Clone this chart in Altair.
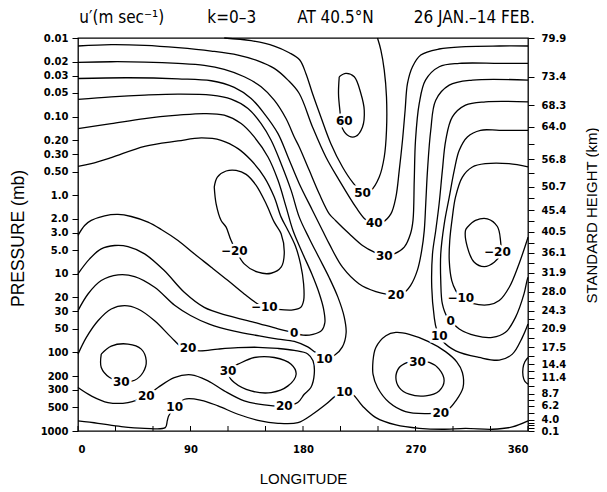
import altair as alt
import pandas as pd

# ---------------- contour lines: longitude (deg) and log10(pressure, mb) ----------------
C60_LON = [209, 214.3, 221, 226.3, 229, 227.6, 222.3, 217, 211.6, 209.5, 208.4, 209]
C60_LP = [-1.507, -1.55, -1.507, -1.294, -1.081, -0.869, -0.75, -0.75, -0.848, -1.081, -1.294, -1.507]

C50_LON = [117, 138.5, 157, 169, 177.4, 182.3, 187.6, 194.3, 202.3, 211.6, 219.6, 227.6, 234.3, 241, 245, 246.8, 246.8, 245, 242.3, 239.6]
C50_LP = [-2.0, -1.966, -1.898, -1.813, -1.72, -1.549, -1.294, -0.996, -0.656, -0.359, -0.167, -0.04, -0.061, -0.231, -0.486, -0.826, -1.25, -1.592, -1.847, -2.0]

C40_LON = [0, 26.6, 53.3, 80, 106.6, 128, 144, 157, 168, 177, 187.6, 198.3, 209, 222.3, 230.3, 237, 243.6, 250.3, 254.3, 257, 259.6, 261.7, 263.6, 267.6, 274.2, 288.9, 310, 337, 360]
C40_LP = [-1.898, -1.915, -1.906, -1.877, -1.834, -1.783, -1.71, -1.613, -1.464, -1.294, -0.869, -0.486, -0.189, 0.152, 0.313, 0.356, 0.343, 0.237, 0.024, -0.316, -0.699, -1.081, -1.422, -1.634, -1.783, -1.86, -1.89, -1.898, -1.898]

C30_LON = [0, 26.6, 53.3, 80, 101, 117, 133, 146.5, 157, 166.4, 173, 177, 185, 193, 201, 206, 217, 227.6, 237, 245, 253, 261, 266, 268, 269, 270, 273, 278, 289, 305, 337, 360]
C30_LP = [-1.69, -1.698, -1.694, -1.677, -1.651, -1.6, -1.507, -1.38, -1.209, -0.975, -0.741, -0.614, -0.316, -0.018, 0.237, 0.321, 0.491, 0.64, 0.725, 0.77, 0.746, 0.661, 0.491, 0.321, -0.189, -0.699, -1.167, -1.464, -1.634, -1.677, -1.677, -1.677]

C20U_LON = [0, 40, 80, 106.6, 125, 138.5, 149, 160, 168, 177, 187.6, 195.6, 201, 211.6, 225, 238.3, 247.6, 254.3, 260, 266, 271.6, 275, 277, 278.2, 279.6, 282.2, 286.2, 297, 315.5, 360]
C20U_LP = [-1.485, -1.494, -1.481, -1.456, -1.371, -1.23, -1.039, -0.784, -0.486, -0.146, 0.194, 0.449, 0.619, 0.916, 1.129, 1.227, 1.262, 1.268, 1.25, 1.15, 0.95, 0.70, 0.45, 0.109, -0.316, -0.826, -1.209, -1.40, -1.464, -1.464]

C10L_LON = [0, 26.6, 53.3, 80, 106.6, 122.5, 136, 146.5, 154.5, 162.5, 170.5, 177, 185, 193, 201, 208, 213, 214.5, 211.5, 205, 198, 190, 183.8, 173, 160, 145, 125, 105, 90, 77.3, 61.3, 45.3, 32, 18.6, 8, 0]
C10L_LP = [-1.218, -1.25, -1.273, -1.286, -1.273, -1.222, -1.103, -0.911, -0.699, -0.401, -0.061, 0.279, 0.55, 0.8, 1.05, 1.3, 1.55, 1.75, 1.93, 2.04, 2.07, 2.0, 1.93, 1.86, 1.83, 1.79, 1.73, 1.64, 1.53, 1.40, 1.171, 1.035, 1.014, 1.086, 1.257, 1.469]

C10R_LON = [360, 326, 310, 299.5, 294.2, 291.5, 288.9, 286.2, 283.6, 283, 285, 286.8, 291.5, 302.2, 320.9, 337, 347.5, 355.5, 360]
C10R_LP = [-1.188, -1.188, -1.145, -0.996, -0.699, -0.316, 0.109, 0.449, 0.746, 1.171, 1.554, 1.703, 1.852, 1.98, 2.064, 2.098, 2.022, 1.809, 1.64]

C10B_LON = [0, 16, 34.6, 53.3, 69.8, 71.4, 72.5, 77.3, 85.2, 98.6, 112, 128, 144, 160, 176, 187.6, 198.3, 206.3, 213, 219.6, 227.6, 238.3, 254.3, 273, 291.5, 310, 331.5, 347.5, 360]
C10B_LP = [2.872, 2.902, 2.944, 2.966, 2.957, 2.872, 2.808, 2.70, 2.596, 2.609, 2.681, 2.787, 2.864, 2.902, 2.894, 2.787, 2.66, 2.553, 2.51, 2.532, 2.681, 2.83, 2.923, 2.966, 2.978, 2.966, 2.978, 2.949, 2.872]

C0L_LON = [0, 26.6, 53.3, 80, 101, 117, 130.5, 141, 152, 160, 166.5, 172, 180, 187, 193, 196.5, 197.5, 195, 188, 180, 173, 160, 141, 120, 101, 85, 69, 53.3, 40, 29.3, 18.6, 9.3, 0]
C0L_LP = [-0.848, -0.911, -0.975, -1.018, -1.039, -1.018, -0.911, -0.741, -0.486, -0.189, 0.152, 0.449, 0.75, 1.0, 1.25, 1.45, 1.62, 1.72, 1.77, 1.78, 1.75, 1.70, 1.618, 1.533, 1.427, 1.235, 0.959, 0.746, 0.653, 0.64, 0.683, 0.81, 1.0]

C0R_LON = [360, 337, 322, 311.5, 305, 301, 297, 293, 290.2, 290.2, 291.5, 295.5, 298.2, 305, 318, 331.5, 342, 350, 356.8, 359.2, 360]
C0R_LP = [-0.826, -0.826, -0.826, -0.741, -0.571, -0.316, 0.024, 0.364, 0.746, 1.086, 1.384, 1.554, 1.597, 1.703, 1.788, 1.809, 1.745, 1.554, 1.256, 1.086, 1.044]

CM10L_LON = [0, 10.6, 26.6, 53.3, 80, 98.6, 114.5, 128, 138.5, 149, 157, 162.5, 168, 174, 178, 180.5, 180.5, 178, 172, 160, 149, 143.8, 133, 120, 106.6, 93, 80, 66.6, 56, 42.6, 32, 21.3, 10.6, 5.3, 0]
CM10L_LP = [-0.367, -0.401, -0.478, -0.622, -0.69, -0.729, -0.699, -0.593, -0.444, -0.231, 0.024, 0.279, 0.449, 0.65, 0.874, 1.13, 1.34, 1.43, 1.46, 1.452, 1.418, 1.384, 1.257, 1.086, 0.916, 0.746, 0.576, 0.436, 0.343, 0.271, 0.245, 0.262, 0.321, 0.385, 0.512]

CM10R_LON = [360, 344.8, 326, 315.5, 307.5, 302, 299.5, 297.4, 297, 299, 302.2, 306.2, 315.5, 329, 337, 345, 352.8, 359.2, 360]
CM10R_LP = [-0.359, -0.401, -0.401, -0.359, -0.231, 0.024, 0.279, 0.576, 0.831, 1.086, 1.214, 1.307, 1.376, 1.393, 1.341, 1.171, 0.874, 0.576, 0.534]

CM20L_LON = [109, 111.5, 118.5, 126.5, 134.5, 142.5, 150.5, 157, 162.5, 165, 162.5, 154.5, 144, 133, 122.5, 118.5, 114.5, 110.5, 109]
CM20L_LP = [-0.104, -0.231, -0.308, -0.316, -0.265, -0.125, 0.109, 0.343, 0.491, 0.746, 0.916, 0.993, 0.98, 0.874, 0.576, 0.406, 0.321, 0.109, -0.104]

CM20R_LON = [311.5, 318, 327.5, 335.5, 338, 338, 333, 325, 317, 311.5, 310, 311.5]
CM20R_LP = [0.407, 0.321, 0.3, 0.398, 0.576, 0.746, 0.853, 0.908, 0.853, 0.661, 0.449, 0.407]

C20L_LON = [0, 6.7, 16, 26.6, 37.3, 48, 61.3, 74.6, 82.6, 88, 97.2, 112, 128, 144, 160, 173, 183.8, 188, 189, 186.3, 181, 175.8, 165, 149, 133, 117, 104, 90.6, 77, 64, 54.6, 40, 24, 10.6, 0]
C20L_LP = [2.022, 1.809, 1.597, 1.448, 1.405, 1.448, 1.597, 1.809, 1.928, 1.95, 1.98, 1.958, 1.94, 1.935, 1.95, 1.975, 2.02, 2.107, 2.277, 2.447, 2.532, 2.638, 2.681, 2.668, 2.617, 2.49, 2.362, 2.285, 2.32, 2.447, 2.553, 2.638, 2.638, 2.553, 2.447]

C20E_LON = [360, 357.5, 356, 356, 357.5, 360]
C20E_LP = [2.065, 2.12, 2.2, 2.3, 2.37, 2.404]

C20R_LON = [236, 238.3, 246.3, 254.3, 265, 280, 294, 303, 307.5, 308, 302.2, 295.5, 290.2, 278.2, 262, 249, 239.6, 236, 236]
C20R_LP = [2.107, 1.937, 1.788, 1.746, 1.77, 1.86, 1.99, 2.12, 2.256, 2.447, 2.617, 2.736, 2.766, 2.779, 2.753, 2.638, 2.447, 2.277, 2.107]

C30A_LON = [18.6, 26.6, 40, 50.6, 54.6, 52, 45.3, 34.6, 25.3, 18.6, 18.6]
C30A_LP = [2.022, 1.92, 1.894, 1.958, 2.107, 2.256, 2.354, 2.375, 2.32, 2.192, 2.022]

C30B_LON = [122.5, 128, 141, 157, 170.5, 174.5, 168, 154.5, 138.5, 125, 121, 122.5]
C30B_LP = [2.192, 2.15, 2.065, 2.065, 2.15, 2.277, 2.426, 2.511, 2.49, 2.383, 2.298, 2.192]

C30C_LON = [263.6, 257, 254.3, 257, 265, 278.2, 288.9, 292.9, 288.9, 281, 271.6, 263.6]
C30C_LP = [2.128, 2.192, 2.32, 2.447, 2.532, 2.553, 2.49, 2.362, 2.213, 2.128, 2.12, 2.128]

CONTOURS = [
    ("c60", C60_LON, C60_LP), ("c50", C50_LON, C50_LP), ("c40", C40_LON, C40_LP),
    ("c30", C30_LON, C30_LP), ("c20u", C20U_LON, C20U_LP), ("c10l", C10L_LON, C10L_LP),
    ("c10r", C10R_LON, C10R_LP), ("c10b", C10B_LON, C10B_LP), ("c0l", C0L_LON, C0L_LP),
    ("c0r", C0R_LON, C0R_LP), ("cm10l", CM10L_LON, CM10L_LP), ("cm10r", CM10R_LON, CM10R_LP),
    ("cm20l", CM20L_LON, CM20L_LP), ("cm20r", CM20R_LON, CM20R_LP), ("c20l", C20L_LON, C20L_LP),
    ("c20e", C20E_LON, C20E_LP), ("c20r", C20R_LON, C20R_LP), ("c30a", C30A_LON, C30A_LP),
    ("c30b", C30B_LON, C30B_LP), ("c30c", C30C_LON, C30C_LP),
]

# ---------------- contour labels ----------------
LAB_TEXT = ["60", "50", "40", "30", "20", "\u221220", "\u221220", "\u221210", "\u221210", "0", "0",
            "10", "10", "10", "10", "20", "20", "20", "20", "30", "30", "30"]
LAB_LON = [213, 227.6, 237, 245, 254.3, 125, 335.5, 149, 306.2, 173, 298.2,
           197, 289, 213, 77.3, 88, 54.6, 165, 290.2, 34.6, 120, 271.6]
LAB_LP = [-0.945, -0.03, 0.356, 0.77, 1.265, 0.704, 0.725, 1.418, 1.307, 1.75, 1.597,
          2.086, 1.788, 2.51, 2.70, 1.95, 2.553, 2.681, 2.766, 2.375, 2.235, 2.128]

# ---------------- axes ----------------
P_TICKS = [0.01, 0.02, 0.03, 0.05, 0.1, 0.2, 0.3, 0.5, 1, 2, 3, 5, 10, 20, 30, 50, 100, 200, 300, 500, 1000]
P_LABELS = ["0.01", "0.02", "0.03", "0.05", "0.10", "0.20", "0.30", "0.50", "1.0", "2.0", "3.0", "5.0",
            "10", "20", "30", "50", "100", "200", "300", "500", "1000"]
H_TICKS = [0.01, 0.031, 0.072, 0.135, 0.35, 0.78, 1.55, 2.9, 5.4, 9.7, 16.8, 29.5, 49, 86, 142, 210, 335, 480, 720, 1000]
H_LABELS = ["79.9", "73.4", "68.3", "64.0", "56.8", "50.7", "45.4", "40.5", "36.1", "31.9", "28.0", "24.3",
            "20.9", "17.5", "14.4", "11.4", "8.7", "6.2", "4.0", "0.1"]
H_MINOR = [0.22, 0.52, 1.1, 2.1, 4.0, 7.2, 12.8, 22, 38, 65, 110, 173, 265, 400, 590, 790, 850, 920]
LON_LABELS = [0, 90, 180, 270, 360]
LON_TICKS = [0, 30, 60, 90, 120, 150, 180, 210, 240, 270, 300, 330, 360]

TITLE_TEXT = ["u\u2032(m sec\u207b\u00b9)", "k=0\u20133", "AT 40.5\u00b0N", "26 JAN.\u201314 FEB."]
TITLE_LON = [35, 123, 206, 317]

# ---------------- build tables ----------------
rows = []
for name, lons, lps in CONTOURS:
    for i, (lo, lp) in enumerate(zip(lons, lps)):
        rows.append({"seg": name, "i": i, "lon": lo, "p": 10 ** lp})
df = pd.DataFrame(rows)
labs = pd.DataFrame({"t": LAB_TEXT, "lon": LAB_LON, "p": [10 ** v for v in LAB_LP]})
titles = pd.DataFrame({"t": TITLE_TEXT, "lon": TITLE_LON})
xt = pd.DataFrame({"lon": LON_TICKS})
rt = pd.DataFrame({"p": H_TICKS + H_MINOR})


def label_expr(vals, labels):
    expr = "''"
    for v, lab in reversed(list(zip(vals, labels))):
        expr = f"datum.value == {v} ? '{lab}' : ({expr})"
    return expr


LABEL_FONT = "DejaVu Sans"
TITLE_FONT = "Liberation Sans Narrow, DejaVu Sans Condensed, Roboto, sans-serif"
AX_TITLE_FONT = "Liberation Sans, Arial, sans-serif"

xscale = alt.Scale(domain=[0, 360], nice=False, zero=False)
yscale = alt.Scale(type="log", domain=[0.01, 1000], reverse=True, nice=False)

xaxis = alt.Axis(values=LON_LABELS, tickSize=0, labelPadding=13, labelFont=LABEL_FONT,
                 labelFontSize=10, labelFontWeight="bold", title="LONGITUDE", titleFont=AX_TITLE_FONT,
                 titleFontSize=15, titleFontWeight="normal", titlePadding=17, domain=False,
                 labelOverlap=False)
yaxis = alt.Axis(values=P_TICKS, labelExpr=label_expr(P_TICKS, P_LABELS), tickSize=6, labelPadding=4,
                 labelFont=LABEL_FONT, labelFontSize=10, labelFontWeight="bold", labelOverlap=False,
                 title="PRESSURE (mb)", titleFont=AX_TITLE_FONT, titleFontSize=17.5, titleFontWeight="normal",
                 titleX=-60, titleY=200, titleAngle=-90, titleAlign="center", titleBaseline="middle",
                 domain=False, labelBaseline="middle")
raxis = alt.Axis(orient="right", values=H_TICKS + H_MINOR, labelExpr=label_expr(H_TICKS, H_LABELS),
                 tickSize=6, labelPadding=7, labelFont=LABEL_FONT, labelFontSize=10, labelFontWeight="bold",
                 labelOverlap=False, title="STANDARD HEIGHT (km)", titleFont=AX_TITLE_FONT, titleFontSize=15,
                 titleFontWeight="normal", titleX=63, titleY=177, titleAngle=-90, titleAlign="center",
                 titleBaseline="middle", domain=False, labelBaseline="middle")

lines = alt.Chart(df).mark_line(color="black", strokeWidth=1.3, interpolate="catmull-rom").encode(
    x=alt.X("lon:Q", scale=xscale, axis=xaxis),
    y=alt.Y("p:Q", scale=yscale, axis=yaxis),
    detail="seg:N",
    order="i:Q",
)
halo = alt.Chart(labs).mark_text(font=LABEL_FONT, fontSize=12, fontWeight="bold", color="white",
                                 stroke="white", strokeWidth=5, baseline="middle", align="center").encode(
    x=alt.X("lon:Q", scale=xscale, axis=xaxis),
    y=alt.Y("p:Q", scale=yscale, axis=None),
    text="t:N",
)
text = alt.Chart(labs).mark_text(font=LABEL_FONT, fontSize=12, fontWeight="bold", color="black",
                                 baseline="middle", align="center").encode(
    x=alt.X("lon:Q", scale=xscale, axis=xaxis),
    y=alt.Y("p:Q", scale=yscale, axis=None),
    text="t:N",
)
xticks = alt.Chart(xt).mark_rule(color="black", strokeWidth=1).encode(
    x=alt.X("lon:Q", scale=xscale, axis=xaxis),
    y=alt.value(393), y2=alt.value(388),
)
right = alt.Chart(rt).mark_point(opacity=0).encode(
    y=alt.Y("p:Q", scale=yscale, axis=raxis),
)
ttl = alt.Chart(titles).mark_text(font=TITLE_FONT, fontSize=17, color="black", baseline="middle",
                                  align="center").encode(
    x=alt.X("lon:Q", scale=xscale, axis=xaxis),
    y=alt.value(-20),
    text="t:N",
)

chart = (
    alt.layer(lines, halo, text, xticks, right, ttl)
    .resolve_scale(y="independent")
    .properties(width=450, height=393,
                padding={"left": 70, "top": 30, "right": 71, "bottom": 56},
                autosize=alt.AutoSizeParams(type="none"))
    .configure_view(stroke="black", strokeWidth=1.3)
    .configure_axis(grid=False, domainColor="black", tickColor="black", labelColor="black",
                    titleColor="black")
)
chart.save("out.html", embed_options={"renderer": "svg", "actions": False})
